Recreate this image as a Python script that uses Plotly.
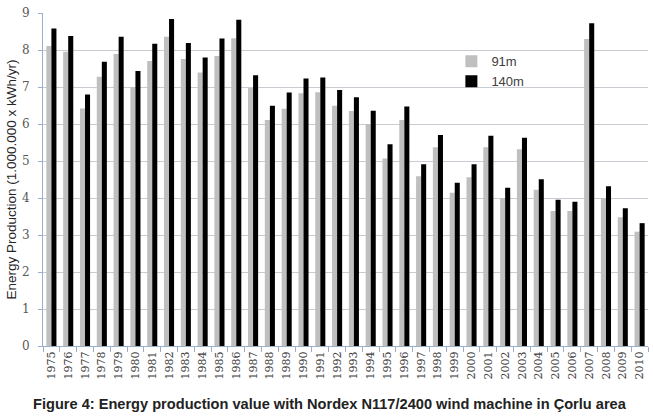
import plotly.graph_objects as go

years = [str(y) for y in range(1975, 2011)]
h91 = [8.11, 7.95, 6.42, 7.28, 7.89, 6.99, 7.70, 8.36, 7.76, 7.39, 7.84, 8.32,
       6.97, 6.11, 6.41, 6.83, 6.86, 6.49, 6.35, 5.99, 5.07, 6.11, 4.59, 5.37,
       4.14, 4.56, 5.37, 3.99, 5.32, 4.22, 3.65, 3.65, 8.30, 3.99, 3.48, 3.09]
h140 = [8.58, 8.38, 6.80, 7.68, 8.36, 7.43, 8.17, 8.84, 8.19, 7.80, 8.31, 8.82,
        7.32, 6.49, 6.85, 7.23, 7.26, 6.92, 6.72, 6.36, 5.45, 6.47, 4.91, 5.70,
        4.41, 4.91, 5.68, 4.28, 5.63, 4.51, 3.95, 3.90, 8.72, 4.32, 3.72, 3.32]
yticks = list(range(0, 10))

fig = go.Figure()
fig.add_trace(go.Bar(x=years, y=h91, name="91m", marker_color="#bfbfbf",
                     marker_line_width=0))
fig.add_trace(go.Bar(x=years, y=h140, name="140m", marker_color="#000000",
                     marker_line_width=0))

fig.update_layout(
    width=653, height=417,
    margin=dict(l=43, r=5, t=13, b=71, autoexpand=False),
    plot_bgcolor="white", paper_bgcolor="white",
    barmode="group", bargap=0.4, bargroupgap=0,
    showlegend=True,
    legend=dict(x=0.675, y=0.9, xanchor="left", yanchor="top",
                bgcolor="rgba(0,0,0,0)", font=dict(family="Liberation Sans", size=13, color="#404040"),
                itemwidth=30, tracegroupgap=0),
    font=dict(family="Liberation Sans", color="#404040"),
)
fig.update_xaxes(
    type="category", tickangle=-90,
    tickfont=dict(family="DejaVu Serif", size=11, color="#404040"),
    showline=True, linecolor="#9bb0c8", linewidth=1,
    ticks="outside", ticklen=5, tickcolor="#9bb0c8",
    tickson="boundaries", showgrid=False, automargin=False,
)
fig.update_yaxes(
    range=[0, 9], tickvals=yticks,
    tickfont=dict(family="DejaVu Serif", size=12, color="#595959"),
    ticklabelstandoff=6,
    showgrid=True, gridcolor="#c8ccd2", gridwidth=1,
    showline=True, linecolor="#9bb0c8", linewidth=1,
    ticks="outside", ticklen=4, tickcolor="#9bb0c8",
    zeroline=False, automargin=False,
    title=dict(text="Energy Production (1.000.000 x kWh/yr)",
               font=dict(family="Liberation Sans", size=13.5, color="#262626"), standoff=2),
)
fig.add_annotation(
    text="<b>Figure 4: Energy production value with Nordex N117/2400 wind machine in Çorlu area</b>",
    xref="paper", yref="paper", x=0.475, y=0, yshift=-48, xanchor="center", yanchor="top",
    showarrow=False, font=dict(family="Liberation Sans", size=14.6, color="#222222"),
)
fig.write_html("out.html", config={"displayModeBar": False},
               post_script="document.body.style.margin='0';")
